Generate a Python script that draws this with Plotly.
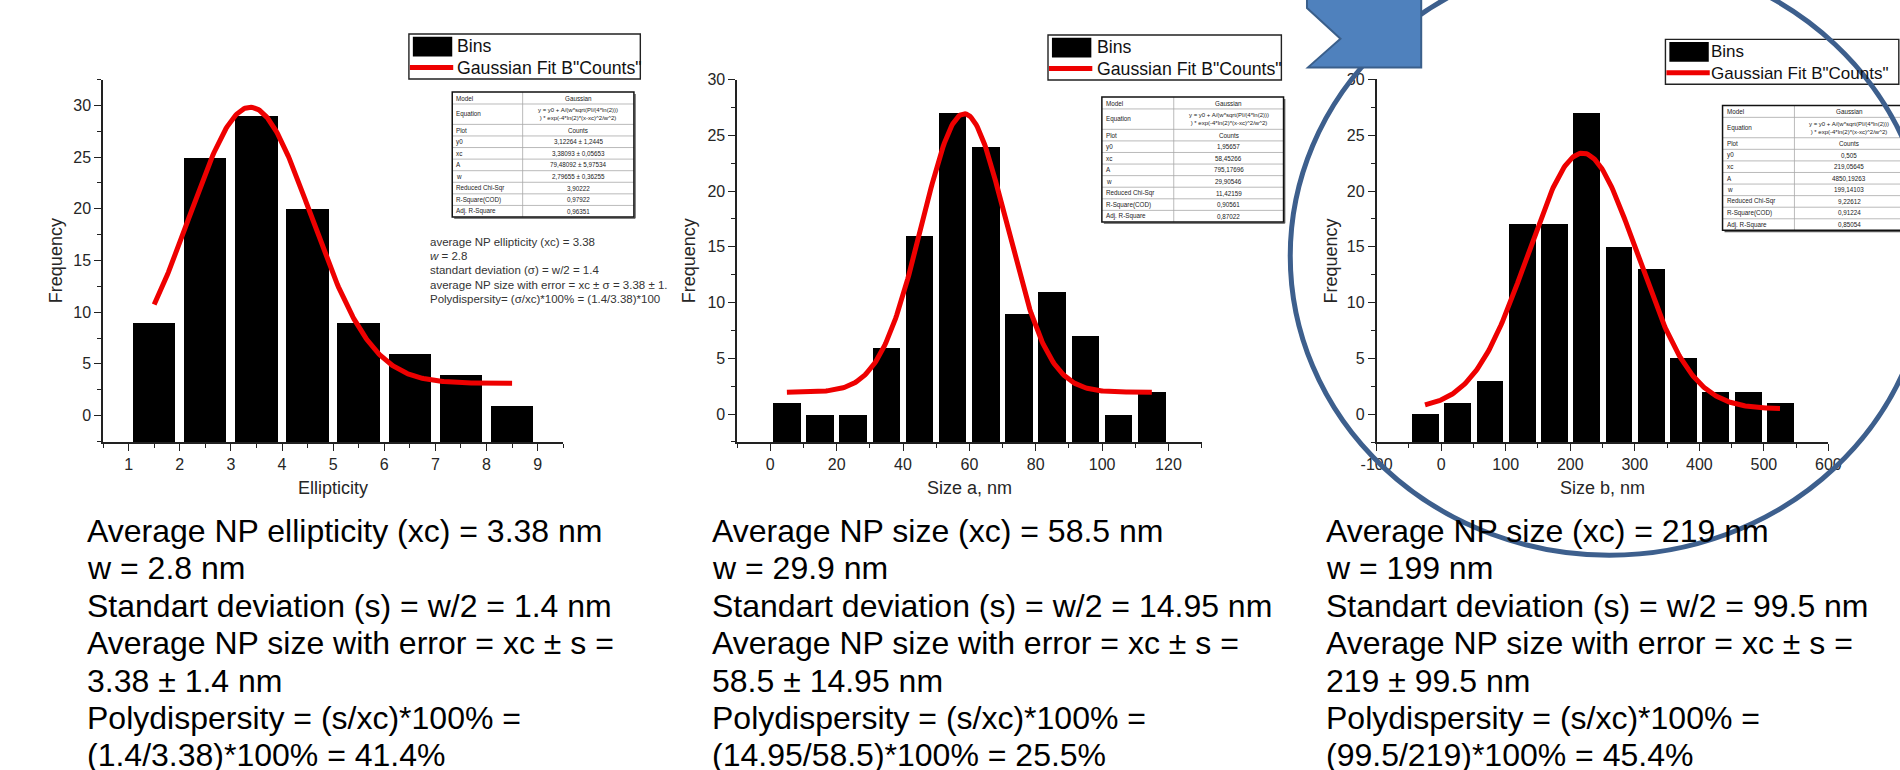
import numpy as np
import plotly.graph_objects as go

W, H = 1900, 770
FONT = "Liberation Sans, Arial, sans-serif"

# ---------------- histogram data ----------------
ell_centers = [1.5, 2.5, 3.5, 4.5, 5.5, 6.5, 7.5, 8.5]
ell_counts = [9, 25, 29, 20, 9, 6, 4, 1]

size_a_centers = [5, 15, 25, 35, 45, 55, 65, 75, 85, 95, 105, 115]
size_a_counts = [1, 0, 0, 6, 16, 27, 24, 9, 11, 7, 0, 2]

size_b_centers = [-25, 25, 75, 125, 175, 225, 275, 325, 375, 425, 475, 525]
size_b_counts = [0, 1, 3, 17, 17, 27, 15, 13, 5, 2, 2, 1]

# Gaussian fit parameters: y0, xc, A, w
ell_fit = [3.12264, 3.38093, 79.48092, 2.79655]
size_a_fit = [1.95657, 58.45266, 795.17696, 29.90546]
size_b_fit = [0.505, 219.05645, 4850.19263, 199.14103]

# tick labels
ell_ticks = [1, 2, 3, 4, 5, 6, 7, 8, 9]
size_a_ticks = [0, 20, 40, 60, 80, 100, 120]
size_b_ticks = [-100, 0, 100, 200, 300, 400, 500, 600]
freq_ticks = [0, 5, 10, 15, 20, 25, 30]

# fit report tables
table_labels = ["Model", "Equation", "Plot", "y0", "xc", "A", "w",
                "Reduced Chi-Sqr", "R-Square(COD)", "Adj. R-Square"]
equation = "y = y0 + A/(w*sqrt(PI/(4*ln(2)))<br>) * exp(-4*ln(2)*(x-xc)^2/w^2)"
ell_table = ["Gaussian", equation, "Counts", "3,12264 ± 1,2445", "3,38093 ± 0,05653",
             "79,48092 ± 5,97534", "2,79655 ± 0,36255", "3,90222", "0,97922", "0,96351"]
size_a_table = ["Gaussian", equation, "Counts", "1,95657", "58,45266", "795,17696",
                "29,90546", "11,42159", "0,90561", "0,87022"]
size_b_table = ["Gaussian", equation, "Counts", "0,505", "219,05645", "4850,19263",
                "199,14103", "9,22612", "0,91224", "0,85054"]

# notes next to the first histogram
ell_notes = [
    "average NP ellipticity (xc) = 3.38",
    "<i>w</i> = 2.8",
    "standart deviation (σ) = w/2 = 1.4",
    "average NP size with error = xc ± σ = 3.38 ± 1.",
    "Polydispersity= (σ/xc)*100% = (1.4/3.38)*100",
]

# summaries under each histogram
ell_summary = [
    "Average NP ellipticity (xc) = 3.38 nm",
    "w = 2.8 nm",
    "Standart deviation (s) = w/2 = 1.4 nm",
    "Average NP size with error = xc ± s =",
    "3.38 ± 1.4 nm",
    "Polydispersity = (s/xc)*100% =",
    "(1.4/3.38)*100% = 41.4%",
]
size_a_summary = [
    "Average NP size (xc) = 58.5 nm",
    "w = 29.9 nm",
    "Standart deviation (s) = w/2 = 14.95 nm",
    "Average NP size with error = xc ± s =",
    "58.5 ± 14.95 nm",
    "Polydispersity = (s/xc)*100% =",
    "(14.95/58.5)*100% = 25.5%",
]
size_b_summary = [
    "Average NP size (xc) = 219 nm",
    "w = 199 nm",
    "Standart deviation (s) = w/2 = 99.5 nm",
    "Average NP size with error = xc ± s =",
    "219 ± 99.5 nm",
    "Polydispersity = (s/xc)*100% =",
    "(99.5/219)*100% = 45.4%",
]


def X(px):
    return px / W


def Y(py):
    return 1 - py / H


def gauss(x, p):
    y0, xc, A, w = p
    return y0 + A / (w * np.sqrt(np.pi / (4 * np.log(2)))) * np.exp(-4 * np.log(2) * (x - xc) ** 2 / w ** 2)


panels = [
    dict(centers=ell_centers, counts=ell_counts, fit=ell_fit, binw=1.0,
         xr=[0.5, 9.5], yr=[-2.55, 32.5], ticks=ell_ticks, minor=0.5,
         xd=(88.4, 555.7), yd=(72.3, 438.5), xtitle="Ellipticity", ytitle_x=40,
         legend=(399, 26.3, 235, 48, 17.7), table=(443, 85, ell_table, 71.5),
         summary=(71.5, ell_summary)),
    dict(centers=size_a_centers, counts=size_a_counts, fit=size_a_fit, binw=10.0,
         xr=[-10, 130], yr=[-2.5, 30], ticks=size_a_ticks, minor=10,
         xd=(732.3, 1204.0), yd=(72.3, 438.5), xtitle="Size a, nm", ytitle_x=683,
         legend=(1048, 27.3, 237, 48.5, 17.7), table=(1102.7, 90, size_a_table, 73),
         summary=(706, size_a_summary)),
    dict(centers=size_b_centers, counts=size_b_counts, fit=size_b_fit, binw=50.0,
         xr=[-100, 600], yr=[-2.5, 30], ticks=size_b_ticks, minor=50,
         xd=(1381.7, 1840.5), yd=(72.0, 439.0), xtitle="Size b, nm", ytitle_x=1335,
         legend=(1675, 31.7, 237, 45, 17.0), table=(1733, 98.5, size_b_table, 73),
         summary=(1329, size_b_summary)),
]

fig = go.Figure()
shapes = []
annotations = []


def text(x, y, s, size, color="#111111", xanchor="left", yanchor="middle", angle=0):
    annotations.append(dict(x=X(x), y=Y(y), xref="paper", yref="paper", text=s,
                            showarrow=False, xanchor=xanchor, yanchor=yanchor,
                            textangle=angle, borderpad=0,
                            font=dict(size=size, color=color, family=FONT)))


def line(x0, y0, x1, y1, color, width):
    shapes.append(dict(type="line", xref="paper", yref="paper",
                       x0=X(x0), y0=Y(y0), x1=X(x1), y1=Y(y1),
                       line=dict(color=color, width=width)))


def rect(x0, y0, x1, y1, fill=None, color="#111111", width=1.5):
    shapes.append(dict(type="rect", xref="paper", yref="paper",
                       x0=X(x0), y0=Y(y0), x1=X(x1), y1=Y(y1),
                       fillcolor=fill if fill else "rgba(0,0,0,0)",
                       line=dict(color=color, width=width)))


row_h = [12, 20.6] + [11.7] * 8


def draw_table(left, top, values, label_w, width=184.5):
    split = left + label_w
    y = top
    for i, (lab, val) in enumerate(zip(table_labels, values)):
        h = row_h[i]
        if i > 0:
            line(left, y, left + width, y, "#a8a8a8", 0.8)
        text(left + 3, y + h / 2, lab, 6.3, "#222222")
        text((split + left + width) / 2, y + h / 2, val, 6.0 if i == 1 else 6.3,
             "#222222", xanchor="center")
        y += h
    line(split, top, split, y, "#a8a8a8", 0.8)
    # drop shadow on the right and bottom edges
    line(left + 2, y + 1.2, left + width + 1.2, y + 1.2, "#555555", 1.2)
    line(left + width + 1.2, top + 2, left + width + 1.2, y + 1.2, "#555555", 1.2)
    rect(left, top, left + width, y, color="#111111", width=1.5)


def draw_legend(left, top, width, text_dx, fsize):
    rect(left, top, left + width, top + 45.4, color="#222222", width=1.4)
    rect(left + 4, top + 2.7, left + 44, top + 22.7, fill="#000000", color="#000000", width=0)
    line(left + 1, top + 33.8, left + 45, top + 33.8, "#ee0000", 5)
    text(left + text_dx, top + 12, "Bins", fsize, "#111111")
    text(left + text_dx, top + 34.4, "Gaussian Fit B\"Counts\"", fsize, "#111111")


axis_common = dict(showline=True, linecolor="#222222", linewidth=1.5, showgrid=False,
                   zeroline=False, ticks="outside", ticklen=7, tickwidth=1.3,
                   tickcolor="#222222", tickfont=dict(size=16, color="#262626", family=FONT))

for k, p in enumerate(panels, start=1):
    suffix = "" if k == 1 else str(k)
    xa, ya = "x" + suffix, "y" + suffix
    base = p["yr"][0]

    # bins are drawn from the bottom of the frequency axis up to each count
    fig.add_trace(go.Bar(
        x=p["centers"], y=[c - base for c in p["counts"]], base=base,
        width=0.83 * p["binw"], marker=dict(color="#000000", line=dict(width=0)),
        xaxis=xa, yaxis=ya, showlegend=False, name="Bins"))

    xs = np.linspace(p["centers"][0], p["centers"][-1], 300)
    fig.add_trace(go.Scatter(
        x=xs, y=gauss(xs, p["fit"]), mode="lines",
        line=dict(color="#ee0000", width=5), xaxis=xa, yaxis=ya,
        showlegend=False, name="Gaussian Fit"))

    fig.update_layout({
        "xaxis" + suffix: dict(axis_common, domain=[X(p["xd"][0]), X(p["xd"][1])],
                               anchor=ya, range=p["xr"], tickmode="array",
                               tickvals=p["ticks"], ticktext=[str(t) for t in p["ticks"]],
                               minor=dict(ticks="outside", dtick=p["minor"], tick0=p["xr"][0],
                                          ticklen=4, tickwidth=1.1, tickcolor="#222222")),
        "yaxis" + suffix: dict(axis_common, domain=[Y(p["yd"][1]), Y(p["yd"][0])],
                               anchor=xa, range=p["yr"], tickmode="array",
                               tickvals=freq_ticks, ticktext=[str(t) for t in freq_ticks],
                               minor=dict(ticks="outside", dtick=2.5, tick0=0,
                                          ticklen=4, tickwidth=1.1, tickcolor="#222222")),
    })

    # axis titles
    text((p["xd"][0] + p["xd"][1]) / 2, 485.5, p["xtitle"], 18, "#262626", xanchor="center")
    text(p["ytitle_x"], (p["yd"][0] + p["yd"][1]) / 2, "Frequency", 18, "#262626",
         xanchor="center", angle=-90)

    draw_legend(*p["legend"])
    draw_table(*p["table"])

    sx, lines = p["summary"]
    for i, s in enumerate(lines):
        text(sx, 528.5 + 37.8 * i, s, 32, "#000000")

# notes beside the first histogram
for i, s in enumerate(ell_notes):
    text(419, 236 + 14.5 * i, s, 11.5, "#333333")

# highlight ellipse around the third histogram and the pointer above it
shapes.append(dict(type="circle", xref="paper", yref="paper", layer="above",
                   x0=X(1294), x1=X(1942), y0=Y(553), y1=Y(-52),
                   line=dict(color="#3d5f8d", width=5)))
pts = [(1311, -10), (1311, 0), (1345, 31), (1312, 60), (1427, 60), (1427, -10)]
path = "M " + " L ".join(f"{X(a):.5f},{Y(b):.5f}" for a, b in pts) + " Z"
shapes.append(dict(type="path", xref="paper", yref="paper", layer="above", path=path,
                   fillcolor="#4f81bd", line=dict(color="#3a5f8b", width=2)))

fig.update_layout(
    width=W, height=H, margin=dict(l=0, r=0, t=0, b=0),
    paper_bgcolor="white", plot_bgcolor="rgba(0,0,0,0)",
    bargap=0, showlegend=False,
    shapes=shapes, annotations=annotations,
    font=dict(family=FONT),
)

fig.write_html("out.html")
